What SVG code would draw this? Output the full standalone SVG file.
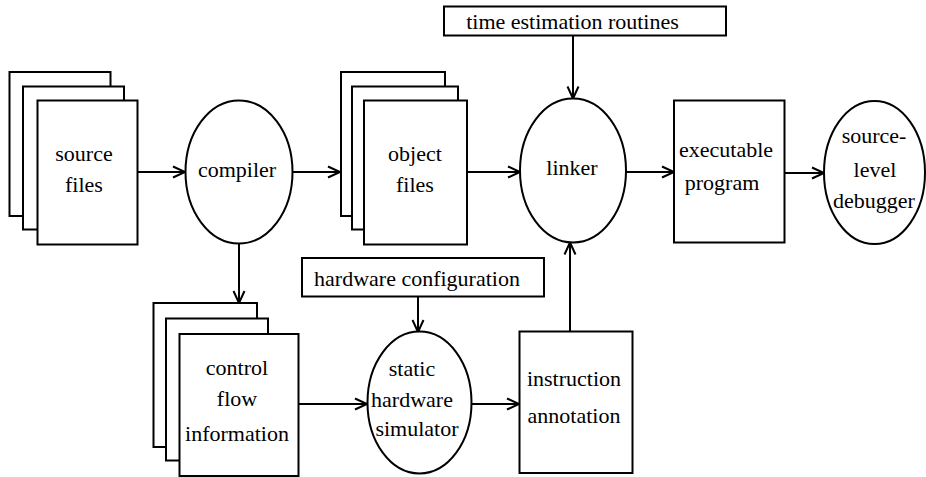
<svg xmlns="http://www.w3.org/2000/svg" width="926" height="477" viewBox="0 0 926 477">
  <style>
    .shape { fill: #fff; stroke: #000; stroke-width: 2; }
    .edge { fill: none; stroke: #000; stroke-width: 2; }
    .label { font-size: 22px; fill: #000; text-anchor: middle; }
  </style>
  <defs>
    <marker id="arrow" markerUnits="userSpaceOnUse" markerWidth="16" markerHeight="14" refX="13" refY="7" orient="auto">
      <path d="M1,1.5 L13,7 L1,12.5" fill="none" stroke="#000" stroke-width="2"/>
    </marker>
  </defs>
  <rect width="926" height="477" fill="#fff"/>

  <!-- connectors -->
  <g id="connectors">
    <line class="edge" x1="137" y1="172" x2="185" y2="172" marker-end="url(#arrow)"/>
    <line class="edge" x1="293" y1="172" x2="340" y2="172" marker-end="url(#arrow)"/>
    <line class="edge" x1="467" y1="172" x2="520" y2="172" marker-end="url(#arrow)"/>
    <line class="edge" x1="573" y1="36" x2="573" y2="98.5" marker-end="url(#arrow)"/>
    <line class="edge" x1="626" y1="172" x2="674" y2="172" marker-end="url(#arrow)"/>
    <line class="edge" x1="784" y1="173" x2="824" y2="173" marker-end="url(#arrow)"/>
    <line class="edge" x1="239" y1="244" x2="239" y2="303" marker-end="url(#arrow)"/>
    <line class="edge" x1="418" y1="297" x2="418" y2="332" marker-end="url(#arrow)"/>
    <line class="edge" x1="298" y1="404" x2="367" y2="404" marker-end="url(#arrow)"/>
    <line class="edge" x1="472" y1="404" x2="519" y2="404" marker-end="url(#arrow)"/>
    <line class="edge" x1="570" y1="332" x2="570" y2="242.5" marker-end="url(#arrow)"/>
  </g>

  <g font-family="'Liberation Serif', 'Times New Roman', Times, serif">
  <!-- source files (stack of pages) -->
  <g id="source-files">
    <rect class="shape" x="9.5" y="72" width="101" height="144"/>
    <rect class="shape" x="23" y="86.5" width="101" height="143"/>
    <rect class="shape" x="37.5" y="100.5" width="100" height="144"/>
    <text class="label" x="84" y="161">source</text>
    <text class="label" x="84" y="192">files</text>
  </g>

  <g id="compiler">
    <ellipse class="shape" cx="239" cy="172" rx="53.5" ry="71.5"/>
    <text class="label" x="237" y="177">compiler</text>
  </g>

  <!-- object files (stack of pages) -->
  <g id="object-files">
    <rect class="shape" x="341" y="72" width="104" height="144"/>
    <rect class="shape" x="352" y="86.5" width="106" height="143"/>
    <rect class="shape" x="364" y="100.5" width="103" height="144"/>
    <text class="label" x="415" y="161">object</text>
    <text class="label" x="415" y="192">files</text>
  </g>

  <g id="time-estimation-routines">
    <rect class="shape" x="444" y="6.5" width="282" height="29"/>
    <text class="label" x="572.5" y="29">time estimation routines</text>
  </g>

  <g id="linker">
    <ellipse class="shape" cx="573" cy="170.5" rx="53" ry="72"/>
    <text class="label" x="572" y="175">linker</text>
  </g>

  <g id="executable-program">
    <rect class="shape" x="674" y="100.5" width="110.5" height="142"/>
    <text class="label" x="726" y="156.5">executable</text>
    <text class="label" x="722" y="190">program</text>
  </g>

  <g id="source-level-debugger">
    <ellipse class="shape" cx="874.5" cy="172.5" rx="50.5" ry="71.5"/>
    <text class="label" x="874" y="143">source-</text>
    <text class="label" x="875" y="176.5">level</text>
    <text class="label" x="874" y="208">debugger</text>
  </g>

  <!-- control flow information (stack of pages) -->
  <g id="control-flow-information">
    <rect class="shape" x="153.5" y="303" width="103.5" height="144"/>
    <rect class="shape" x="166" y="318.5" width="102" height="142"/>
    <rect class="shape" x="179.5" y="334" width="119" height="142"/>
    <text class="label" x="237" y="375">control</text>
    <text class="label" x="237" y="406">flow</text>
    <text class="label" x="237" y="441">information</text>
  </g>

  <g id="hardware-configuration">
    <rect class="shape" x="302" y="258" width="242" height="38.5"/>
    <text class="label" x="417" y="286">hardware configuration</text>
  </g>

  <g id="static-hardware-simulator">
    <ellipse class="shape" cx="419.5" cy="402.5" rx="52" ry="71"/>
    <text class="label" x="412" y="376">static</text>
    <text class="label" x="412" y="407">hardware</text>
    <text class="label" x="417" y="436">simulator</text>
  </g>

  <g id="instruction-annotation">
    <rect class="shape" x="519.5" y="331.5" width="113" height="141.5"/>
    <text class="label" x="574" y="386">instruction</text>
    <text class="label" x="574" y="423">annotation</text>
  </g>
  </g>
</svg>
